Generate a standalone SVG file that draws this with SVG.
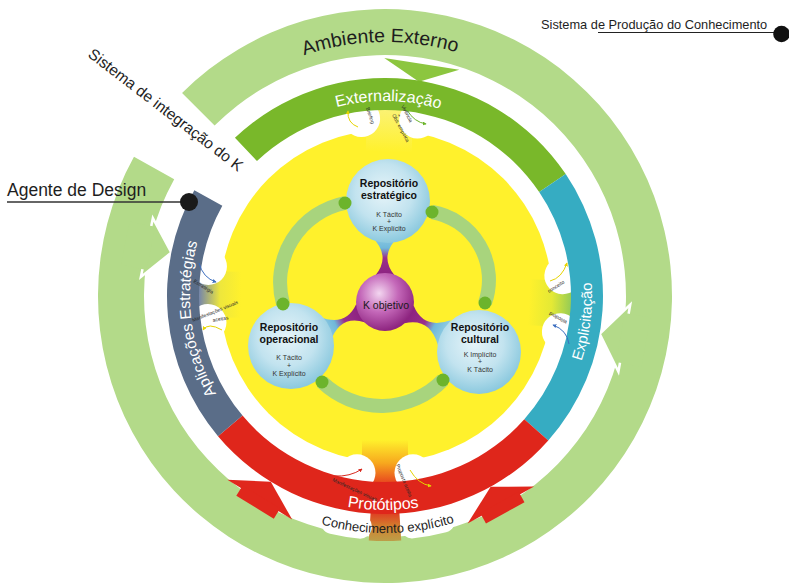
<svg xmlns="http://www.w3.org/2000/svg" width="789" height="585" viewBox="0 0 789 585">
<defs>
<style>
text{font-family:"Liberation Sans",Arial,Helvetica,sans-serif}
.ring{fill:#b3da89}
.bub{fill:#fff}
.wt{fill:#fff}
.bk{fill:#1e1e1e}
.tiny{font-size:5px;fill:#2a2a2a}
.rt{font-size:10.5px;font-weight:bold;fill:#111;text-anchor:middle}
.rk{font-size:7px;fill:#333;text-anchor:middle}
.link{fill:none;stroke:#a8d47d;stroke-width:14}
.dot{fill:#6cb42c}
.cur{fill:none;stroke-width:1}
</style>
<radialGradient id="gRepo" cx="0.45" cy="0.4" r="0.62">
<stop offset="0" stop-color="#e6f4f9"/><stop offset="0.55" stop-color="#c2e3ef"/><stop offset="1" stop-color="#87c7dd"/>
</radialGradient>
<radialGradient id="gK" cx="0.4" cy="0.35" r="0.65">
<stop offset="0" stop-color="#f3d6f0"/><stop offset="0.5" stop-color="#c468b9"/><stop offset="1" stop-color="#8e2580"/>
</radialGradient>
<linearGradient id="gN1" gradientUnits="userSpaceOnUse" x1="385" y1="276" x2="385" y2="236">
<stop offset="0" stop-color="#8c2280"/><stop offset="0.45" stop-color="#9a2f8a"/><stop offset="0.7" stop-color="#6fb8da"/><stop offset="1" stop-color="#8fcbe2"/>
</linearGradient>
<linearGradient id="gN2" gradientUnits="userSpaceOnUse" x1="360.4" y1="313.1" x2="324.6" y2="329.3">
<stop offset="0" stop-color="#8c2280"/><stop offset="0.45" stop-color="#9a2f8a"/><stop offset="0.7" stop-color="#6fb8da"/><stop offset="1" stop-color="#8fcbe2"/>
</linearGradient>
<linearGradient id="gN3" gradientUnits="userSpaceOnUse" x1="409" y1="314.4" x2="444.3" y2="332.6">
<stop offset="0" stop-color="#8c2280"/><stop offset="0.45" stop-color="#9a2f8a"/><stop offset="0.7" stop-color="#6fb8da"/><stop offset="1" stop-color="#8fcbe2"/>
</linearGradient>
<linearGradient id="gFt" gradientUnits="userSpaceOnUse" x1="0" y1="152" x2="0" y2="106">
<stop offset="0" stop-color="#fff12c"/><stop offset="1" stop-color="#fbf27a"/>
</linearGradient>
<linearGradient id="gFr" gradientUnits="userSpaceOnUse" x1="0" y1="152" x2="0" y2="106">
<stop offset="0" stop-color="#fff12c"/><stop offset="0.5" stop-color="#e4e935"/><stop offset="1" stop-color="#86c65c"/>
</linearGradient>
<linearGradient id="gFb" gradientUnits="userSpaceOnUse" x1="0" y1="152" x2="0" y2="106">
<stop offset="0" stop-color="#fff12c"/><stop offset="0.5" stop-color="#f7a81e"/><stop offset="1" stop-color="#e5381f"/>
</linearGradient>
<linearGradient id="gFl" gradientUnits="userSpaceOnUse" x1="0" y1="152" x2="0" y2="106">
<stop offset="0" stop-color="#fff12c"/><stop offset="0.45" stop-color="#eee73c"/><stop offset="1" stop-color="#5f74bf"/>
</linearGradient>
<linearGradient id="gOf" gradientUnits="userSpaceOnUse" x1="385" y1="510" x2="385" y2="543">
<stop offset="0" stop-color="#e1301f"/><stop offset="0.5" stop-color="#d2802e"/><stop offset="1" stop-color="#b9a24c"/>
</linearGradient>
<marker id="mY" viewBox="0 0 6 6" refX="5" refY="3" markerWidth="4" markerHeight="4" orient="auto"><path d="M0,0 L6,3 L0,6 z" fill="#e6d400"/></marker>
<marker id="mG" viewBox="0 0 6 6" refX="5" refY="3" markerWidth="4" markerHeight="4" orient="auto"><path d="M0,0 L6,3 L0,6 z" fill="#6cb42c"/></marker>
<marker id="mB" viewBox="0 0 6 6" refX="5" refY="3" markerWidth="4" markerHeight="4" orient="auto"><path d="M0,0 L6,3 L0,6 z" fill="#3d6fc0"/></marker>
<marker id="mR" viewBox="0 0 6 6" refX="5" refY="3" markerWidth="4" markerHeight="4" orient="auto"><path d="M0,0 L6,3 L0,6 z" fill="#d8281e"/></marker>
<path id="pAmb" d="M162.63,173.25 A254,254 0 0 1 602.49,164.80"/>
<path id="pExt" d="M217.85,195.57 A195,195 0 0 1 555.55,201.46"/>
<path id="pExp" d="M464.88,486.97 A207,207 0 0 0 510.44,131.34"/>
<path id="pPro" d="M198.74,401.38 A214,214 0 0 0 569.39,404.61"/>
<path id="pApl" d="M308.81,475.50 A195,195 0 0 1 267.65,140.27"/>
<path id="pCon" d="M181.22,417 A237,237 0 0 0 591.68,411.98"/>
</defs>

<!-- outer production ring -->
<g id="ambiente-externo">
<path class="ring" d="M182.06,93.06 A287,287 0 1 1 133.98,156.86 L174.22,179.16 A241,241 0 1 0 214.59,125.59 Z"/>
<path fill="url(#gOf)" d="M399.18,509.53 L401.24,540.46 A245,245 0 0 1 368.76,540.46 L370.82,509.53 A214,214 0 0 0 399.18,509.53 Z"/>
<path d="M332.81,522.05 A232,232 0 0 0 359.94,526.64" fill="none" stroke="#fff" stroke-width="24" stroke-linecap="round"/>
<path d="M412.07,526.42 A232,232 0 0 0 443.09,520.61" fill="none" stroke="#fff" stroke-width="24" stroke-linecap="round"/>
<text class="bk" font-size="19.5"><textPath href="#pAmb" startOffset="50%" text-anchor="middle">Ambiente Externo</textPath></text>
<text class="bk" font-size="13"><textPath href="#pCon" startOffset="50%" text-anchor="middle">Conhecimento explícito</textPath></text>
</g>

<!-- inward arrows from the outer ring -->
<g id="connectors-outer">
<polygon points="384.23,57.95 459.29,69.83 418.95,81.67" fill="#8cc63f"/>
<polygon points="630.21,304.72 599.69,333.86 618.41,371.68" class="ring" stroke="#fff" stroke-width="2.5"/>
<polygon points="624.71,312.88 650.31,317.40 641.63,366.64 616.03,362.12" class="ring"/>
<polygon points="152.86,218.15 171.38,252.54 140.90,276.95" class="ring" stroke="#fff" stroke-width="2.5"/>
<polygon points="155.19,226.79 129.71,221.61 120.93,264.73 146.41,269.91" class="ring"/>
<polygon points="227.40,479.65 270.77,481.68 292.14,519.47" fill="#e0271c"/>
<polygon points="242.60,485.48 280.08,508.54 273.79,518.76 236.31,495.70" fill="#e0271c"/>
<polygon points="467.63,523.45 490.69,486.67 534.11,486.61" fill="#e0271c"/>
<polygon points="480.18,513.08 518.66,491.74 524.47,502.24 485.99,523.58" fill="#e0271c"/>
</g>

<!-- yellow core and its necks to the cycle band -->
<g id="nucleo">
<circle cx="386" cy="296" r="166" fill="#fff12c"/>
<g transform="rotate(1.5 385 296)"><rect x="362" y="100" width="46" height="52" fill="url(#gFt)"/><circle class="bub" cx="357" cy="119.2" r="18.5"/><circle class="bub" cx="413" cy="119.2" r="18.5"/></g>
<g transform="rotate(92.5 385 296)"><rect x="362" y="100" width="46" height="52" fill="url(#gFr)"/><circle class="bub" cx="357" cy="119.2" r="18.5"/><circle class="bub" cx="413" cy="119.2" r="18.5"/></g>
<g transform="rotate(180 385 296)"><rect x="362" y="100" width="46" height="52" fill="url(#gFb)"/><circle class="bub" cx="357" cy="119.2" r="18.5"/><circle class="bub" cx="413" cy="119.2" r="18.5"/></g>
<g transform="rotate(270.5 385 296)"><rect x="362" y="100" width="46" height="52" fill="url(#gFl)"/><circle class="bub" cx="357" cy="119.2" r="18.5"/><circle class="bub" cx="413" cy="119.2" r="18.5"/></g>
</g>

<!-- cycle band -->
<g id="externalizacao">
<path fill="#79b82a" d="M234.94,137.87 A218,218 0 0 1 565.73,174.10 L539.20,191.99 A186,186 0 0 0 256.97,161.08 Z"/>
<text class="wt" font-size="16"><textPath href="#pExt" startOffset="50%" text-anchor="middle">Externalização</textPath></text>
</g>
<g id="explicitacao">
<path fill="#36acc2" d="M565.73,174.10 A218,218 0 0 1 548.27,440.45 L524.31,419.25 A186,186 0 0 0 539.20,191.99 Z"/>
<text class="wt" font-size="15"><textPath href="#pExp" startOffset="50%" text-anchor="middle">Explicitação</textPath></text>
</g>
<g id="prototipos">
<path fill="#df261b" d="M548.27,440.45 A218,218 0 0 1 218.0,436.13 L242.52,415.56 A186,186 0 0 0 524.31,419.25 Z"/>
<text class="wt" font-size="16"><textPath href="#pPro" startOffset="50%" text-anchor="middle">Protótipos</textPath></text>
</g>
<g id="aplicacoes">
<path fill="#5a6d88" d="M218.0,436.13 A218,218 0 0 1 194.33,190.31 L222.32,205.83 A186,186 0 0 0 242.52,415.56 Z"/>
<text class="wt" font-size="15.5"><textPath href="#pApl" startOffset="50%" text-anchor="middle">Aplicações Estratégias</textPath></text>
</g>

<!-- small flow notes inside the necks -->
<g id="notas">
<path class="cur" stroke="#e6d400" d="M358,127 Q347,123 348,111" marker-end="url(#mY)"/>
<text class="tiny" transform="translate(366,108) rotate(72)">Briefing</text>
<path class="cur" stroke="#6cb42c" d="M407,110 Q414,122 426,124" marker-end="url(#mG)"/>
<text class="tiny" transform="translate(401,106) rotate(62)">Vivência</text>
<text class="tiny" transform="translate(397,115) rotate(62)">+</text>
<text class="tiny" transform="translate(392,115) rotate(62)">Obs. empírica</text>
<path class="cur" stroke="#e6d400" d="M550,281 Q562,278 567,263" marker-end="url(#mY)"/>
<text class="tiny" transform="translate(549,293) rotate(-32)">conceito</text>
<path class="cur" stroke="#3d6fc0" d="M569,344 Q567,330 553,325" marker-end="url(#mB)"/>
<text class="tiny" transform="translate(549,314) rotate(30)">proposta</text>
<path class="cur" stroke="#3d6fc0" d="M199,263 Q203,278 216,282" marker-end="url(#mB)"/>
<text class="tiny" transform="translate(193,282) rotate(32)">Estratégia</text>
<path class="cur" stroke="#e6d400" d="M222,330 Q208,322 203,330" marker-end="url(#mY)"/>
<text class="tiny" transform="translate(193,322) rotate(-22)">Manifestações visuais</text>
<text class="tiny" transform="translate(213,322) rotate(-10)">aceitas</text>
<path class="cur" stroke="#d8281e" d="M334,476 Q350,477 362,469" marker-end="url(#mR)"/>
<text class="tiny" transform="translate(332,481) rotate(25)">Manifestações visuais</text>
<path class="cur" stroke="#e6d400" d="M410,470 Q418,484 431,486" marker-end="url(#mY)"/>
<text class="tiny" transform="translate(396,465) rotate(68)">Proposta aceita</text>
</g>

<!-- links between repositories -->
<g id="connectors">
<path class="link" d="M345,203 A81,81 0 0 0 283,304"/>
<path class="link" d="M432,212 A69,69 0 0 1 485,303"/>
<path class="link" d="M322,382 A86,86 0 0 0 443,380"/>
<path fill="url(#gN1)" d="M395,276 Q378,256 399,236 L371,236 Q392,256 375,276 Z"/>
<path fill="url(#gN2)" d="M356.3,304.0 Q345.4,327.6 318.8,316.5 L330.4,342.1 Q339.6,314.8 364.5,322.2 Z"/>
<path fill="url(#gN3)" d="M404.4,323.3 Q429.8,317.3 437.9,345.0 L450.7,320.2 Q423.4,329.7 413.6,305.5 Z"/>
</g>

<g id="repositorio-estrategico">
<circle cx="388" cy="201" r="42" fill="url(#gRepo)"/>
<text class="rt" x="389" y="187">Repositório</text>
<text class="rt" x="389" y="198.5">estratégico</text>
<text class="rk" x="389" y="216.5">K Tácito</text>
<text class="rk" x="389" y="223.5" font-size="5.5">+</text>
<text class="rk" x="389" y="231">K Explícito</text>
</g>
<g id="repositorio-operacional">
<circle cx="291" cy="346" r="43" fill="url(#gRepo)"/>
<text class="rt" x="289" y="331">Repositório</text>
<text class="rt" x="289" y="342.5">operacional</text>
<text class="rk" x="289" y="360">K Tácito</text>
<text class="rk" x="289" y="367.5" font-size="5.5">+</text>
<text class="rk" x="289" y="375.5">K Explícito</text>
</g>
<g id="repositorio-cultural">
<circle cx="479" cy="352" r="42" fill="url(#gRepo)"/>
<text class="rt" x="480" y="331">Repositório</text>
<text class="rt" x="480" y="342.5">cultural</text>
<text class="rk" x="480" y="356.5">K Implícito</text>
<text class="rk" x="480" y="363.5" font-size="5.5">+</text>
<text class="rk" x="480" y="372">K Tácito</text>
</g>
<g id="k-objetivo">
<circle cx="385" cy="302" r="29" fill="url(#gK)"/>
<text x="386" y="309" font-size="10.5" fill="#1a1a1a" text-anchor="middle">K objetivo</text>
</g>
<g id="dots">
<circle class="dot" cx="345" cy="203" r="6.5"/>
<circle class="dot" cx="432" cy="212" r="6.5"/>
<circle class="dot" cx="283" cy="304" r="6.5"/>
<circle class="dot" cx="485" cy="303" r="6.5"/>
<circle class="dot" cx="322" cy="382" r="6.5"/>
<circle class="dot" cx="443" cy="380" r="6.5"/>
</g>

<!-- callout labels -->
<g id="sistema-producao-label">
<text x="541" y="28.5" font-size="12.8" class="bk">Sistema de Produção do Conhecimento</text>
<line x1="598" y1="32.5" x2="778" y2="32.5" stroke="#222" stroke-width="1.2"/>
<circle cx="781.5" cy="34" r="8.3" fill="#111"/>
</g>
<g id="agente-design">
<text x="7" y="195.5" font-size="17.5" class="bk">Agente de Design</text>
<line x1="7" y1="202" x2="188" y2="202" stroke="#333" stroke-width="1.3"/>
<circle cx="189" cy="202" r="9" fill="#1a1a1a"/>
</g>
<g id="sistema-integracao">
<text class="bk" font-size="15.5" transform="translate(87,56) rotate(37.5)">Sistema de integração do K</text>
</g>
</svg>
